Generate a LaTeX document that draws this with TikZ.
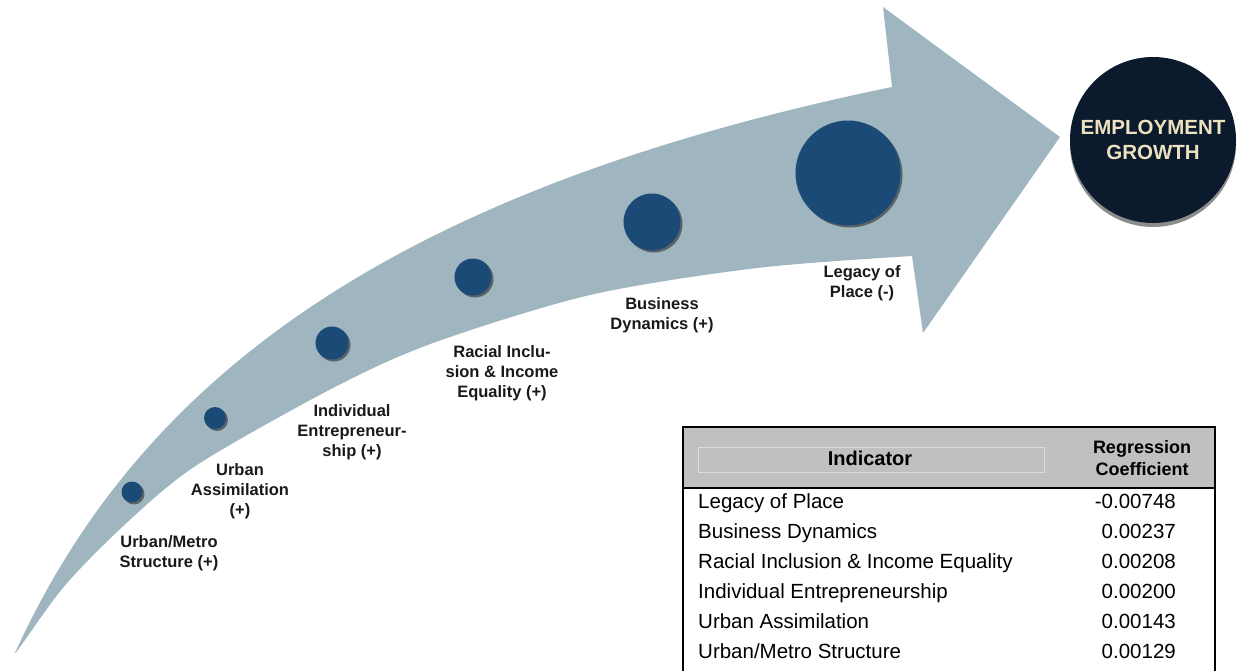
\documentclass[tikz,border=0pt]{standalone}
\usepackage{fontspec}
\setmainfont{Liberation Sans}
\usetikzlibrary{shadows}

\definecolor{bandgray}{HTML}{9FB6C1}
\definecolor{dotblue}{HTML}{1B4A77}
\definecolor{goalnavy}{HTML}{0B1A2C}
\definecolor{goalcream}{HTML}{EDE2BF}
\definecolor{headgray}{HTML}{C0C0C0}

\tikzset{
  band/.style      = {fill=bandgray},
  factordot/.style = {circle, fill=dotblue, inner sep=0pt,
                      drop shadow={shadow xshift=2pt, shadow yshift=-2pt,
                                   opacity=.7, fill=black!75}},
  factor/.style    = {align=center, inner sep=0pt, text=black!90,
                      font=\bfseries\fontsize{16.5}{20}\selectfont},
  goal/.style      = {circle, fill=goalnavy, minimum size=166pt, inner sep=0pt,
                      align=center, text=goalcream,
                      font=\bfseries\fontsize{20.5}{25}\selectfont,
                      drop shadow={shadow xshift=0pt, shadow yshift=-4pt,
                                   opacity=.45, fill=black}},
  cell/.style      = {inner sep=0pt, font=\fontsize{20.5}{24}\selectfont},
  headcell/.style  = {inner sep=0pt, align=center, font=\bfseries\fontsize{20}{24}\selectfont}
}

\begin{document}
\begin{tikzpicture}[x=1pt, y=-1pt]
\useasboundingbox (0,0) rectangle (1238,670);

\fill[band] (15,653) .. controls (140,378) and (392,190) .. (892,87)
  -- (883,7) -- (1060,137) -- (923,333) -- (912,256)
  -- plot[smooth] coordinates {(912,256) (757,268) (590,295) (433,343) (333,388)
    (200,463) (133,517) (67,583) (20,647) (15,653)} -- cycle;

\node[factordot, minimum size=21pt]  (urbandot)    at (132,492) {};
\node[factordot, minimum size=22pt]  (assimdot)    at (215,418) {};
\node[factordot, minimum size=33pt]  (indivdot)    at (332,343) {};
\node[factordot, minimum size=37pt]  (racialdot)   at (473,277) {};
\node[factordot, minimum size=57pt]  (businessdot) at (652,222) {};
\node[factordot, minimum size=105pt] (legacydot)   at (848,173) {};

\node[factor] (urban)    at (169,553) {Urban/Metro\\Structure (+)};
\node[factor] (assim)    at (240,491) {Urban\\Assimilation\\(+)};
\node[factor] (indiv)    at (352,432) {Individual\\Entrepreneur-\\ship (+)};
\node[factor] (racial)   at (502,373) {Racial Inclu-\\sion \& Income\\Equality (+)};
\node[factor] (business) at (662,315) {Business\\Dynamics (+)};
\node[factor] (legacy)   at (862,283) {Legacy of\\Place (-)};

\node[goal] (growth) at (1153,140) {EMPLOYMENT\\GROWTH};

\fill[headgray] (683,427) rectangle (1215,488);
\draw[line width=.7pt, white!45!headgray] (698,447) rectangle (1044,472);
\draw[line width=2.5pt] (683,680) -- (683,427) -- (1215,427) -- (1215,680);
\draw[line width=2.5pt] (683,488) -- (1215,488);

\node[headcell] (indhead) at (870,458) {Indicator};
\node[headcell, font=\bfseries\fontsize{18}{22}\selectfont] (coefhead) at (1142,458) {Regression\\Coefficient};

\node[cell, anchor=base west] (row1) at (698,508) {Legacy of Place};
\node[cell, anchor=base west] (row2) at (698,538) {Business Dynamics};
\node[cell, anchor=base west] (row3) at (698,568) {Racial Inclusion \& Income Equality};
\node[cell, anchor=base west] (row4) at (698,598) {Individual Entrepreneurship};
\node[cell, anchor=base west] (row5) at (698,628) {Urban Assimilation};
\node[cell, anchor=base west] (row6) at (698,658) {Urban/Metro Structure};

\node[cell, anchor=base east] (val1) at (1176,508) {-0.00748};
\node[cell, anchor=base east] (val2) at (1176,538) {0.00237};
\node[cell, anchor=base east] (val3) at (1176,568) {0.00208};
\node[cell, anchor=base east] (val4) at (1176,598) {0.00200};
\node[cell, anchor=base east] (val5) at (1176,628) {0.00143};
\node[cell, anchor=base east] (val6) at (1176,658) {0.00129};
\end{tikzpicture}
\end{document}
